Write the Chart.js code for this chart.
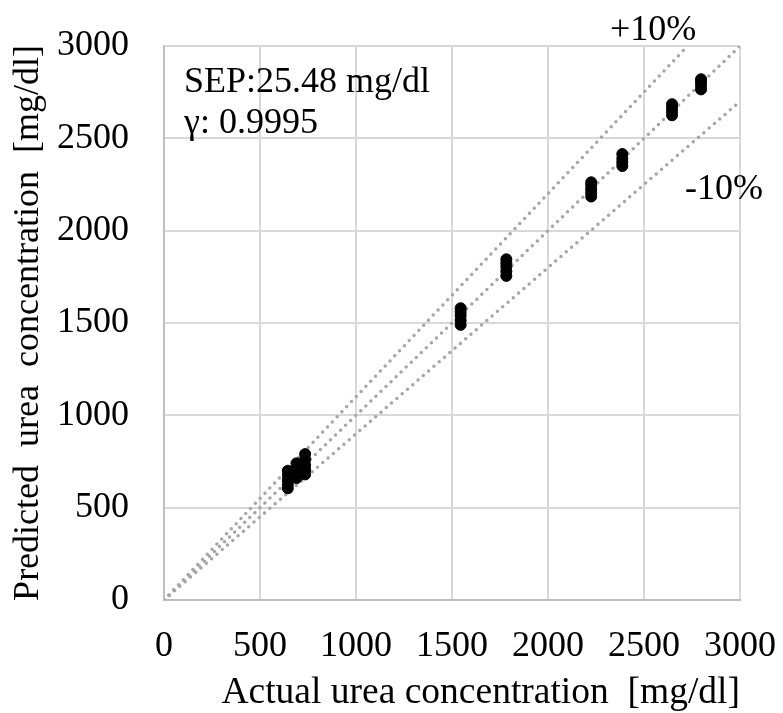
<!DOCTYPE html>
<html>
<head>
<meta charset="utf-8">
<script src="https://cdn.jsdelivr.net/npm/chart.js@4"></script>
<style>
  body { margin: 0; background: #fff; }
  canvas { display: block; }
</style>
</head>
<body>
<canvas id="chart" width="783" height="713"></canvas>
<script>
// measured samples (actual vs predicted, mg/dl)
const actual = [
  645, 645, 645, 645, 645,
  690, 690, 690, 690,
  735, 735, 735, 735, 735,
  1545, 1545, 1545, 1545, 1545,
  1783, 1783, 1783, 1783, 1783,
  2225, 2225, 2225, 2225, 2225,
  2387, 2387, 2387, 2387,
  2646, 2646, 2646, 2646,
  2797, 2797, 2797, 2797
];
const predicted = [
  605, 625, 650, 675, 700,
  660, 690, 715, 740,
  680, 705, 730, 760, 790,
  1490, 1515, 1540, 1560, 1580,
  1755, 1780, 1805, 1825, 1845,
  2185, 2205, 2225, 2245, 2262,
  2350, 2370, 2390, 2415,
  2625, 2645, 2665, 2685,
  2765, 2785, 2805, 2820
];

// reference lines y = x, +10%, -10%
const idealX = [0, 3000];
const idealY = [0, 3000];
const plusX = [0, 2727];
const plusY = [0, 3000];
const minusX = [0, 3000];
const minusY = [0, 2700];

const ticks = [0, 500, 1000, 1500, 2000, 2500, 3000];

const toPoints = (xs, ys) => xs.map((x, i) => ({ x: x, y: ys[i] }));

const serif = "'Liberation Serif', 'Times New Roman', serif";

const refLine = (xs, ys) => ({
  data: toPoints(xs, ys),
  showLine: true,
  borderColor: '#A6A6A6',
  borderWidth: 3.5,
  borderDash: [0, 7],
  borderCapStyle: 'round',
  pointRadius: 0,
  fill: false,
  order: 2,
});

// drop the extra room chart.js keeps for the end tick labels
const noLabelPadding = (scale) => {
  scale.paddingLeft = 0;
  scale.paddingRight = 0;
  scale.paddingTop = 0;
  scale.paddingBottom = 0;
};

// text labels inside the plot
const notes = {
  id: 'notes',
  afterDraw(chart) {
    const { ctx } = chart;
    ctx.save();
    ctx.fillStyle = '#000';
    ctx.font = '36px ' + serif;
    ctx.textAlign = 'left';
    ctx.textBaseline = 'alphabetic';
    ctx.fillText('SEP:25.48 mg/dl', 184, 92);
    ctx.fillText('γ: 0.9995', 184, 133);
    ctx.fillText('+10%', 610, 40);
    ctx.fillText('-10%', 685, 199);
    ctx.restore();
  }
};

new Chart(document.getElementById('chart'), {
  type: 'scatter',
  data: {
    datasets: [
      {
        data: toPoints(actual, predicted),
        backgroundColor: '#000',
        borderColor: '#000',
        borderWidth: 1,
        pointRadius: 5.5,
        pointHoverRadius: 5.5,
        order: 1,
      },
      refLine(idealX, idealY),
      refLine(plusX, plusY),
      refLine(minusX, minusY),
    ]
  },
  options: {
    responsive: false,
    animation: false,
    layout: { padding: { top: 46, right: 43, left: 0, bottom: 0 } },
    plugins: {
      legend: { display: false },
      tooltip: { enabled: false },
    },
    scales: {
      x: {
        type: 'linear',
        min: 0,
        max: 3000,
        afterBuildTicks: (scale) => { scale.ticks = ticks.map(v => ({ value: v })); },
        afterFit: (scale) => { scale.height = 113; noLabelPadding(scale); },
        grid: { color: '#D9D9D9', lineWidth: 2, drawTicks: false },
        border: { color: '#BFBFBF', width: 2 },
        ticks: {
          color: '#000', padding: 25, maxRotation: 0,
          font: { family: serif, size: 36 },
          callback: (v) => String(v),
        },
        title: {
          display: true,
          align: 'end',
          text: 'Actual urea concentration  [mg/dl]',
          color: '#000',
          padding: { top: 0, bottom: 1 },
          font: { family: serif, size: 37.5, lineHeight: 1 },
        },
      },
      y: {
        type: 'linear',
        min: 0,
        max: 3000,
        afterBuildTicks: (scale) => { scale.ticks = ticks.map(v => ({ value: v })); },
        afterFit: (scale) => { scale.width = 164; noLabelPadding(scale); },
        grid: { color: '#D9D9D9', lineWidth: 2, drawTicks: false },
        border: { color: '#BFBFBF', width: 2 },
        ticks: {
          color: '#000', padding: 35,
          font: { family: serif, size: 36 },
          callback: (v) => String(v),
        },
        title: {
          display: true,
          text: 'Predicted  urea  concentration  [mg/dl]',
          color: '#000',
          padding: { top: 11, bottom: 0 },
          font: { family: serif, size: 36, lineHeight: 1 },
        },
      },
    },
  },
  plugins: [notes],
});
</script>
</body>
</html>
